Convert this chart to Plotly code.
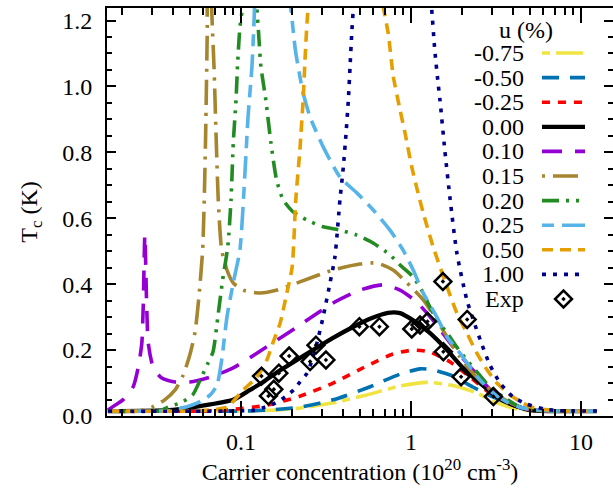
import plotly.graph_objects as go

# ---------------- data ----------------
LABELS = ['-0.75', '-0.50', '-0.25', '0.00', '0.10', '0.15', '0.20', '0.25', '0.50', '1.00']
COLORS = ['#f0e442', '#0072b2', '#ff0000', '#000000', '#9400d3',
          '#a5862e', '#228b22', '#56b4e9', '#e69f00', '#00008b']
DASHES = ['8px,6px,27px,6px', '17px,11px', '8px,8px', 'solid', '20px,13px',
          '3px,8px,25px,8px', '17px,7px,3px,7px,3px,7px', '12px,8px,23px,8px',
          '11px,7px', '4px,7px']
WIDTHS = [3.6, 3.6, 3.6, 4.3, 3.6, 3.6, 3.6, 3.6, 3.6, 3.6]

N_M075 = [0.0165, 0.09, 0.142, 0.222, 0.348, 0.55, 0.862, 1.24, 1.7, 2.44, 3.03, 3.98, 5.0, 6.5, 12.4]
T_M075 = [0.015, 0.015, 0.017, 0.024, 0.040, 0.064, 0.091, 0.102, 0.094, 0.070, 0.045, 0.024, 0.016, 0.015, 0.015]

N_M050 = [0.0165, 0.1, 0.142, 0.222, 0.348, 0.55, 0.862, 1.13, 1.35, 1.77, 2.31, 3.03, 3.98, 5.0, 6.5, 12.4]
T_M050 = [0.015, 0.015, 0.018, 0.027, 0.049, 0.085, 0.127, 0.143, 0.140, 0.121, 0.088, 0.058, 0.033, 0.017, 0.015, 0.015]

N_M025 = [0.0165, 0.06, 0.09, 0.142, 0.222, 0.348, 0.55, 0.784, 1.03, 1.29, 1.7, 2.22, 2.91, 3.8, 5.0, 6.5, 12.4]
T_M025 = [0.015, 0.015, 0.02, 0.033, 0.06, 0.10, 0.152, 0.188, 0.20, 0.194, 0.164, 0.118, 0.07, 0.036, 0.018, 0.015, 0.015]

N_P000 = [0.0165, 0.038, 0.0575, 0.09, 0.113, 0.135, 0.163, 0.20, 0.265, 0.348, 0.456, 0.574, 0.732,
          0.862, 1.03, 1.29, 1.63, 2.02, 2.55, 3.2, 3.98, 5.0, 6.5, 12.4]
T_P000 = [0.015, 0.018, 0.03, 0.049, 0.079, 0.103, 0.133, 0.161, 0.20, 0.237, 0.27, 0.295, 0.313,
          0.312, 0.29, 0.252, 0.20, 0.146, 0.10, 0.058, 0.033, 0.018, 0.015, 0.015]

N_P010 = [0.0165, 0.0182, 0.0202, 0.0232, 0.0249, 0.0261, 0.0266, 0.0272, 0.0279, 0.0285, 0.0305,
          0.0342, 0.041, 0.050, 0.066, 0.09, 0.142, 0.222, 0.348, 0.5, 0.685, 0.862, 1.08, 1.35,
          1.77, 2.31, 3.03, 3.98, 5.0, 6.5, 12.4]
T_P010 = [0.018, 0.033, 0.049, 0.088, 0.149, 0.22, 0.33, 0.55, 0.33, 0.22, 0.146,
          0.115, 0.103, 0.103, 0.118, 0.146, 0.21, 0.276, 0.343, 0.382, 0.398, 0.382, 0.346, 0.29,
          0.21, 0.14, 0.073, 0.036, 0.018, 0.015, 0.015]

N_P015 = [0.0165, 0.0255, 0.030, 0.0356, 0.041, 0.0457, 0.050, 0.0537, 0.0567, 0.0595, 0.0608, 0.062,
          0.0633, 0.0645, 0.066, 0.0673, 0.0694, 0.0713, 0.0735, 0.077, 0.0827, 0.09, 0.103, 0.13,
          0.163, 0.222, 0.348, 0.5, 0.631, 0.784, 0.947, 1.18, 1.42, 1.63, 1.94, 2.31, 2.8, 3.34,
          4.37, 5.36, 7.0, 12.4]
T_P015 = [0.015, 0.016, 0.027, 0.049, 0.079, 0.124, 0.185, 0.255, 0.367, 0.504, 0.655, 0.86,
          1.16, 1.5, 1.5, 1.23, 1.06, 0.86, 0.655, 0.504, 0.443, 0.404, 0.382, 0.373,
          0.382, 0.407, 0.443, 0.461, 0.464, 0.443, 0.404, 0.352, 0.29, 0.24, 0.179, 0.13, 0.088, 0.058,
          0.027, 0.018, 0.015, 0.015]

N_P020 = [0.0165, 0.0334, 0.0372, 0.045, 0.052, 0.0575, 0.064, 0.0684, 0.0736, 0.078, 0.0836, 0.0874,
          0.0901, 0.0935, 0.0958, 0.0986, 0.102, 0.109, 0.117, 0.124, 0.127, 0.131, 0.14, 0.15, 0.162,
          0.177, 0.203, 0.243, 0.304, 0.382, 0.48, 0.598, 0.752, 0.862, 1.03, 1.18, 1.29, 1.42, 1.63,
          1.86, 2.13, 2.44, 2.91, 3.48, 4.37, 5.36, 7.0, 12.4]
T_P020 = [0.015, 0.016, 0.027, 0.042, 0.064, 0.109, 0.161, 0.194, 0.313, 0.413, 0.513, 0.656,
          0.829, 0.959, 1.08, 1.18, 1.24, 1.6, 1.6, 1.24, 1.16, 1.06, 0.959, 0.829, 0.716,
          0.656, 0.619, 0.595, 0.574, 0.564, 0.549, 0.525, 0.489, 0.458, 0.422, 0.373, 0.331, 0.291, 0.252,
          0.209, 0.17, 0.134, 0.088, 0.058, 0.027, 0.018, 0.015, 0.015]

N_P025 = [0.0165, 0.038, 0.045, 0.055, 0.066, 0.0723, 0.077, 0.0827, 0.09, 0.0986, 0.106, 0.110,
          0.116, 0.119, 0.122, 0.15, 0.18, 0.19, 0.196, 0.209, 0.232, 0.255, 0.305, 0.382, 0.48,
          0.60, 0.752, 0.897, 1.03, 1.18, 1.42, 1.63, 1.94, 2.22, 2.55, 3.03, 3.67, 4.56, 5.6, 7.0, 12.4]
T_P025 = [0.015, 0.016, 0.024, 0.039, 0.064, 0.094, 0.17, 0.30, 0.404, 0.504, 0.756, 0.907,
          1.06, 1.18, 1.3, 1.6, 1.6, 1.28, 1.24, 1.11, 0.98, 0.907, 0.816, 0.725, 0.677,
          0.625, 0.564, 0.504, 0.443, 0.373, 0.30, 0.24, 0.191, 0.149, 0.109, 0.07, 0.042, 0.024, 0.018, 0.015, 0.015]

N_P050 = [0.0165, 0.0575, 0.0827, 0.103, 0.124, 0.142, 0.154, 0.17, 0.186, 0.20, 0.21, 0.222, 0.232,
          0.238, 0.245, 0.255, 0.334, 0.5, 0.657, 0.687, 0.735, 0.787, 0.862, 0.922, 1.01, 1.10, 1.18,
          1.35, 1.63, 1.86, 2.13, 2.44, 2.8, 3.2, 3.82, 4.56, 5.36, 6.58, 8.0, 12.4]
T_P050 = [0.015, 0.016, 0.027, 0.079, 0.118, 0.17, 0.222, 0.282, 0.373, 0.452, 0.656, 0.807, 0.959,
          1.08, 1.20, 1.3, 1.6, 1.6, 1.3, 1.24, 1.16, 1.03, 0.929, 0.859, 0.756, 0.677, 0.616,
          0.513, 0.392, 0.313, 0.252, 0.191, 0.14, 0.10, 0.064, 0.039, 0.024, 0.018, 0.015, 0.015]

N_P100 = [0.0165, 0.121, 0.138, 0.159, 0.182, 0.204, 0.222, 0.245, 0.262, 0.28, 0.304, 0.334, 0.357,
          0.382, 0.40, 0.415, 0.428, 0.438, 0.448, 0.457, 0.475, 0.657, 1.13, 1.28, 1.32, 1.38, 1.45,
          1.48, 1.58, 1.70, 1.86, 2.13, 2.38, 2.62, 2.91, 3.34, 3.98, 4.8, 6.1, 7.5, 12.4]
T_P100 = [0.015, 0.018, 0.027, 0.039, 0.058, 0.079, 0.103, 0.13, 0.17, 0.222, 0.30, 0.404, 0.483,
          0.656, 0.756, 0.859, 0.959, 1.06, 1.16, 1.23, 1.35, 1.6, 1.6, 1.3, 1.24, 1.11, 1.0,
          0.959, 0.807, 0.656, 0.495, 0.352, 0.276, 0.215, 0.155, 0.10, 0.058, 0.036, 0.021, 0.016, 0.015]

CURVES_N = [N_M075, N_M050, N_M025, N_P000, N_P010, N_P015, N_P020, N_P025, N_P050, N_P100]
CURVES_T = [T_M075, T_M050, T_M025, T_P000, T_P010, T_P015, T_P020, T_P025, T_P050, T_P100]

N_EXP = [0.132, 0.145, 0.156, 0.167, 0.192, 0.255, 0.276, 0.316, 0.497, 0.652,
         1.01, 1.13, 1.25, 1.54, 1.55, 1.97, 2.14, 3.05]
T_EXP = [0.121, 0.061, 0.081, 0.13, 0.182, 0.165, 0.215, 0.17, 0.271, 0.271,
         0.264, 0.276, 0.287, 0.408, 0.195, 0.119, 0.293, 0.059]

X_TICKS = [0.1, 1, 10]
X_TICKTEXT = ['0.1', '1', '10']
Y_TICKS = [0.0, 0.2, 0.4, 0.6, 0.8, 1.0, 1.2]
Y_TICKTEXT = ['0.0', '0.2', '0.4', '0.6', '0.8', '1.0', '1.2']

# ---------------- layout geometry ----------------
W, H = 613, 496
ML, MR, MT, MB = 107, 0, 8, 80
PW, PH = W - ML - MR, H - MT - MB
X_RANGE = [-1.788, 1.188]
Y_RANGE = [0.0, 1.238]
FONT = '"Liberation Serif", "Times New Roman", Times, "DejaVu Serif", serif'
FS = 24

minor_x = [m * 10 ** k for k in (-2, -1, 0, 1) for m in range(2, 10)]

fig = go.Figure()
for lab, c, d, w, xs, ys in zip(LABELS, COLORS, DASHES, WIDTHS, CURVES_N, CURVES_T):
    fig.add_trace(go.Scatter(x=xs, y=ys, mode='lines', name=lab, showlegend=False,
                             line=dict(color=c, dash=d, width=w, shape='spline', smoothing=0.6)))
fig.add_trace(go.Scatter(x=N_EXP, y=T_EXP, mode='markers', name='Exp', showlegend=False,
                         marker=dict(symbol='diamond-open-dot', size=13, color='black',
                                     line=dict(width=2.5, color='black'))))

# ---------------- key (gnuplot style: text left, sample right) ----------------
def px2x(px):
    return (px - ML) / PW

def py2paper(py):
    return (MT + PH - py) / PH

def py2y(py):
    return py2paper(py) * Y_RANGE[1]

ROW0, ROWSTEP = 53, 24.6
TEXT_RIGHT, S0, S1 = 526, 542, 585
ann = [dict(text='u (%)', x=px2x(TEXT_RIGHT), y=py2paper(30), xref='paper', yref='paper',
            xanchor='center', yanchor='middle', showarrow=False, font=dict(family=FONT, size=FS))]
for i, (lab, c, d, w) in enumerate(zip(LABELS, COLORS, DASHES, WIDTHS)):
    py = ROW0 + ROWSTEP * i
    ann.append(dict(text=lab, x=px2x(TEXT_RIGHT), y=py2paper(py), xref='paper', yref='paper',
                    xanchor='right', yanchor='middle', showarrow=False,
                    font=dict(family=FONT, size=FS)))
    fig.add_trace(go.Scatter(x=[px2x(S0), px2x(S1)], y=[py2y(py), py2y(py)], mode='lines',
                             xaxis='x2', yaxis='y2', showlegend=False, hoverinfo='skip',
                             line=dict(color=c, dash=d, width=w)))
py = ROW0 + ROWSTEP * len(LABELS)
ann.append(dict(text='Exp', x=px2x(TEXT_RIGHT), y=py2paper(py), xref='paper', yref='paper',
                xanchor='right', yanchor='middle', showarrow=False, font=dict(family=FONT, size=FS)))
fig.add_trace(go.Scatter(x=[px2x((S0 + S1) / 2)], y=[py2y(py)], mode='markers',
                         xaxis='x2', yaxis='y2', showlegend=False, hoverinfo='skip',
                         marker=dict(symbol='diamond-open-dot', size=13, color='black',
                                     line=dict(width=2.5, color='black'))))

fig.update_layout(
    width=W, height=H, margin=dict(l=ML, r=MR, t=MT, b=MB, autoexpand=False),
    paper_bgcolor='white', plot_bgcolor='white', showlegend=False,
    font=dict(family=FONT, size=FS, color='black'),
    annotations=ann,
    xaxis=dict(type='log', range=X_RANGE, tickvals=X_TICKS, ticktext=X_TICKTEXT,
               ticks='inside', ticklen=15, tickwidth=1.5, tickcolor='black',
               minor=dict(tickvals=minor_x, ticks='inside', ticklen=7, tickwidth=1.5, tickcolor='black'),
               showline=True, linewidth=2, linecolor='black', mirror='ticks',
               showgrid=False, zeroline=False, ticklabelstandoff=3,
               tickfont=dict(family=FONT, size=FS),
               title=dict(text='Carrier concentration (10<sup>20</sup> cm<sup>-3</sup>)',
                          font=dict(family=FONT, size=FS), standoff=2),
               automargin=False),
    yaxis=dict(range=Y_RANGE, tickvals=Y_TICKS, ticktext=Y_TICKTEXT,
               ticks='inside', ticklen=9, tickwidth=1.5, tickcolor='black',
               minor=dict(dtick=0.05, ticks='inside', ticklen=5, tickwidth=1.5, tickcolor='black'),
               showline=True, linewidth=2, linecolor='black', mirror=False,
               showgrid=False, zeroline=False, ticklabelstandoff=8,
               tickfont=dict(family=FONT, size=FS),
               title=dict(text='T<sub>c</sub> (K)', font=dict(family=FONT, size=FS), standoff=18),
               automargin=False),
    xaxis2=dict(overlaying='x', anchor='y2', range=[0, 1], visible=False, fixedrange=True),
    yaxis2=dict(overlaying='y', anchor='x2', side='right', range=Y_RANGE,
                tickvals=Y_TICKS, showticklabels=False, ticks='inside', ticklen=9,
                tickwidth=1.5, tickcolor='black',
                minor=dict(dtick=0.05, ticks='inside', ticklen=5, tickwidth=1.5, tickcolor='black'),
                showline=False, showgrid=False, zeroline=False),
)

fig.write_html('out.html')
